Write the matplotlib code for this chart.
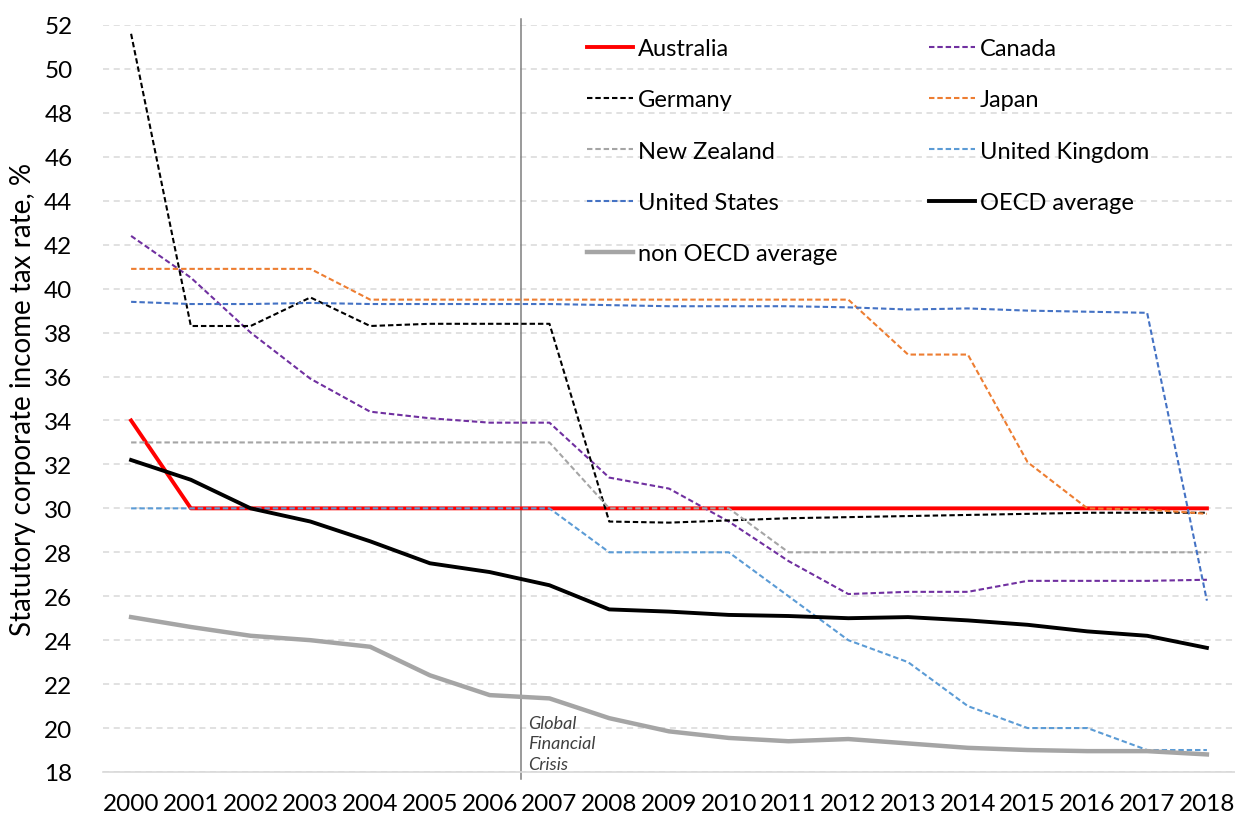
"""Statutory corporate income tax rates, 2000-2018
"""
import numpy as np
import matplotlib
matplotlib.use('Agg')
import matplotlib.pyplot as plt

plt.rcParams['font.family'] = ['Lato', 'DejaVu Sans']

years = np.arange(2000, 2019)

australia = [34.0, 30, 30, 30, 30, 30, 30, 30, 30, 30, 30, 30, 30, 30, 30, 30, 30, 30, 30]
canada = [42.4, 40.5, 38.0, 35.9, 34.4, 34.1, 33.9, 33.9, 31.4, 30.9, 29.4, 27.6,
          26.1, 26.2, 26.2, 26.7, 26.7, 26.7, 26.75]
germany = [51.6, 38.3, 38.3, 39.6, 38.3, 38.4, 38.4, 38.4, 29.4, 29.35, 29.45, 29.55,
           29.6, 29.65, 29.7, 29.75, 29.8, 29.8, 29.8]
japan = [40.9, 40.9, 40.9, 40.9, 39.5, 39.5, 39.5, 39.5, 39.5, 39.5, 39.5, 39.5,
         39.5, 37.0, 37.0, 32.1, 30.0, 29.95, 29.75]
new_zealand = [33, 33, 33, 33, 33, 33, 33, 33, 30, 30, 30, 28, 28, 28, 28, 28, 28, 28, 28]
uk = [30, 30, 30, 30, 30, 30, 30, 30, 28, 28, 28, 26, 24, 23, 21, 20, 20, 19, 19]
us = [39.4, 39.3, 39.3, 39.35, 39.3, 39.3, 39.3, 39.3, 39.25, 39.2, 39.2, 39.2,
      39.15, 39.05, 39.1, 39.0, 38.95, 38.9, 25.8]
oecd = [32.2, 31.3, 30.0, 29.4, 28.5, 27.5, 27.1, 26.5, 25.4, 25.3, 25.15, 25.1,
        25.0, 25.05, 24.9, 24.7, 24.4, 24.2, 23.65]
non_oecd = [25.05, 24.6, 24.2, 24.0, 23.7, 22.4, 21.5, 21.35, 20.45, 19.85, 19.55, 19.4,
            19.5, 19.3, 19.1, 19.0, 18.95, 18.95, 18.8]

gfc_year = 2006.52

dash = (0, (2.6, 1.4))
fig = plt.figure(figsize=(12.35, 8.2), dpi=100)
ax = fig.add_axes([103 / 1235, 1 - 773 / 820, 1 - 103 / 1235, (773 - 26) / 820])

h_aus, = ax.plot(years, australia, color='#ff0000', lw=2.8, label='Australia')
h_can, = ax.plot(years, canada, color='#7030a0', lw=1.5, ls=dash, label='Canada')
h_ger, = ax.plot(years, germany, color='black', lw=1.5, ls=dash, label='Germany')
h_jap, = ax.plot(years, japan, color='#ed7d31', lw=1.5, ls=dash, label='Japan')
h_nz, = ax.plot(years, new_zealand, color='#a5a5a5', lw=1.5, ls=dash, label='New Zealand')
h_uk, = ax.plot(years, uk, color='#5b9bd5', lw=1.5, ls=dash, label='United Kingdom')
h_us, = ax.plot(years, us, color='#4472c4', lw=1.5, ls=dash, label='United States')
h_oecd, = ax.plot(years, oecd, color='black', lw=2.8, label='OECD average')
h_non, = ax.plot(years, non_oecd, color='#a5a5a5', lw=3.2, label='non OECD average')

# GFC marker line
ax.plot([gfc_year, gfc_year], [17.68, 52.27], color='#7f7f7f', lw=1.1, clip_on=False, zorder=1)
ax.text(gfc_year + 0.12, 20.6, 'Global\nFinancial\nCrisis', fontstyle='italic',
        fontsize=13, color='#404040', va='top', ha='left', linespacing=1.35)

ax.set_xlim(1999.53, 2018.47)
ax.set_ylim(18, 52)
ax.set_yticks(np.arange(18, 53, 2))
ax.set_xticks(years)
ax.tick_params(axis='both', length=0, labelsize=17.5, colors='#000000')
ax.tick_params(axis='x', pad=15)
ax.tick_params(axis='y', pad=22)
ax.yaxis.grid(True, color='#d9d9d9', lw=1.1, ls=(0, (4, 3)))
ax.set_axisbelow(True)
for s in ['left', 'right', 'top']:
    ax.spines[s].set_visible(False)
ax.spines['bottom'].set_color('#d9d9d9')
ax.spines['bottom'].set_linewidth(1.2)
ax.set_ylabel('Statutory corporate income tax rate, %', fontsize=20, labelpad=6)

handles = [h_aus, h_ger, h_nz, h_us, h_non, h_can, h_jap, h_uk, h_oecd]
ax.legend(handles=handles, ncol=2, frameon=False, fontsize=17,
          loc='upper left', bbox_to_anchor=(566 / 1235, 1 - 18 / 820),
          bbox_transform=fig.transFigure, handlelength=1.95, handletextpad=0.21,
          labelspacing=1.28, columnspacing=3.85)

fig.savefig('out.png', dpi=100)
